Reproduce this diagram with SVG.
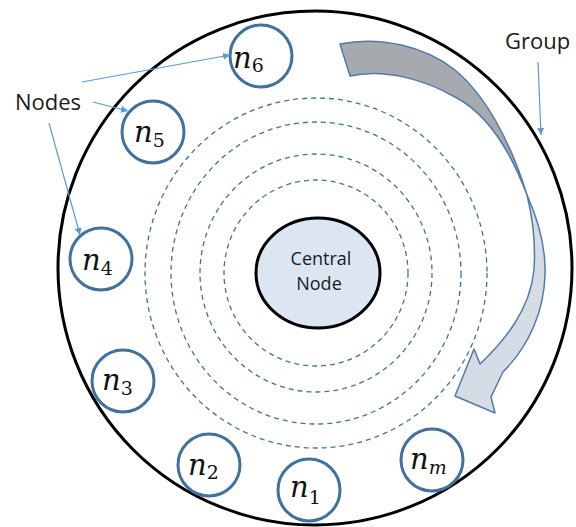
<svg xmlns="http://www.w3.org/2000/svg" width="576" height="527" viewBox="0 0 576 527">
<style>
.node circle{fill:#fff;stroke:#41719c;stroke-width:3}
.lbl{font-family:"DejaVu Serif","Liberation Serif",serif;fill:#111}
.lbl .n{font-style:italic;font-size:29px}
.lbl .s{font-size:19px}
.ring{fill:none;stroke:#41719c;stroke-width:1.3;stroke-dasharray:5 4}
.ann{fill:none;stroke:#5b9bd5;stroke-width:1.2}
.txt{font-family:"Open Sans","Liberation Sans",sans-serif;fill:#1a1a1a}
</style>
<defs>
<marker id="ah" viewBox="0 0 10 10" refX="10" refY="5" markerWidth="7" markerHeight="7" orient="auto" markerUnits="userSpaceOnUse">
<path d="M0,0 L10,5 L0,10 Z" fill="#5b9bd5"/>
</marker>
</defs>
<rect width="576" height="527" fill="#fff"/>
<g id="group">
<circle cx="315" cy="268" r="257" fill="none" stroke="#000" stroke-width="3"/>
</g>
<g id="rings">
<ellipse class="ring" cx="316" cy="273" rx="171" ry="175"/>
<ellipse class="ring" cx="316" cy="273" rx="145" ry="151"/>
<ellipse class="ring" cx="316" cy="273" rx="116" ry="119"/>
<ellipse class="ring" cx="316" cy="273" rx="92" ry="93"/>
</g>
<g id="central">
<ellipse cx="318" cy="273" rx="62" ry="55" fill="#dce6f2" stroke="#000" stroke-width="3"/>
<text class="txt" font-size="18" text-anchor="middle"><tspan x="321" y="265">Central</tspan><tspan x="319" y="290">Node</tspan></text>
</g>
<g id="flow-arrow" stroke="#4f7bab" stroke-width="1.5" stroke-linejoin="round">
<path d="M340,44 C380,36 425,46 455,70 C485,95 510,140 527,195 C512,155 490,115 455,97 C425,80 385,68 350,76 Z" fill="#a6a9ae"/>
<path d="M527,195 C536,215 546,245 545,275 C544,310 530,345 503,372 L491,397 L495,413 L455,396 L474,349 L480,364 C505,340 530,310 534,270 C536,240 532,215 527,195 Z" fill="#d6dce5"/>
</g>
<g id="n6" class="node"><circle cx="261" cy="56" r="31"/><text class="lbl" x="233" y="68"><tspan class="n">n</tspan><tspan class="s" dy="4">6</tspan></text></g>
<g id="n5" class="node"><circle cx="153" cy="132" r="31"/><text class="lbl" x="134" y="142"><tspan class="n">n</tspan><tspan class="s" dy="5">5</tspan></text></g>
<g id="n4" class="node"><circle cx="101" cy="259" r="31"/><text class="lbl" x="82" y="270"><tspan class="n">n</tspan><tspan class="s" dy="5">4</tspan></text></g>
<g id="n3" class="node"><circle cx="123" cy="381" r="31"/><text class="lbl" x="102" y="390"><tspan class="n">n</tspan><tspan class="s" dy="5">3</tspan></text></g>
<g id="n2" class="node"><circle cx="209" cy="465" r="31"/><text class="lbl" x="188" y="475"><tspan class="n">n</tspan><tspan class="s" dy="4">2</tspan></text></g>
<g id="n1" class="node"><circle cx="309" cy="490" r="31"/><text class="lbl" x="290" y="497"><tspan class="n">n</tspan><tspan class="s" dy="7">1</tspan></text></g>
<g id="nm" class="node"><circle cx="432" cy="460" r="31"/><text class="lbl" x="410" y="469"><tspan class="n">n</tspan><tspan class="s" dy="5" font-style="italic">m</tspan></text></g>
<g id="labels">
<text class="txt" x="15" y="110" font-size="22">Nodes</text>
<text class="txt" x="505" y="49" font-size="22">Group</text>
</g>
<g id="connectors">
<line class="ann" x1="82" y1="82" x2="230" y2="55" marker-end="url(#ah)"/>
<line class="ann" x1="93" y1="102" x2="128" y2="111" marker-end="url(#ah)"/>
<line class="ann" x1="49" y1="123" x2="80" y2="235" marker-end="url(#ah)"/>
<line class="ann" x1="538" y1="62" x2="541" y2="135" marker-end="url(#ah)"/>
</g>
</svg>
